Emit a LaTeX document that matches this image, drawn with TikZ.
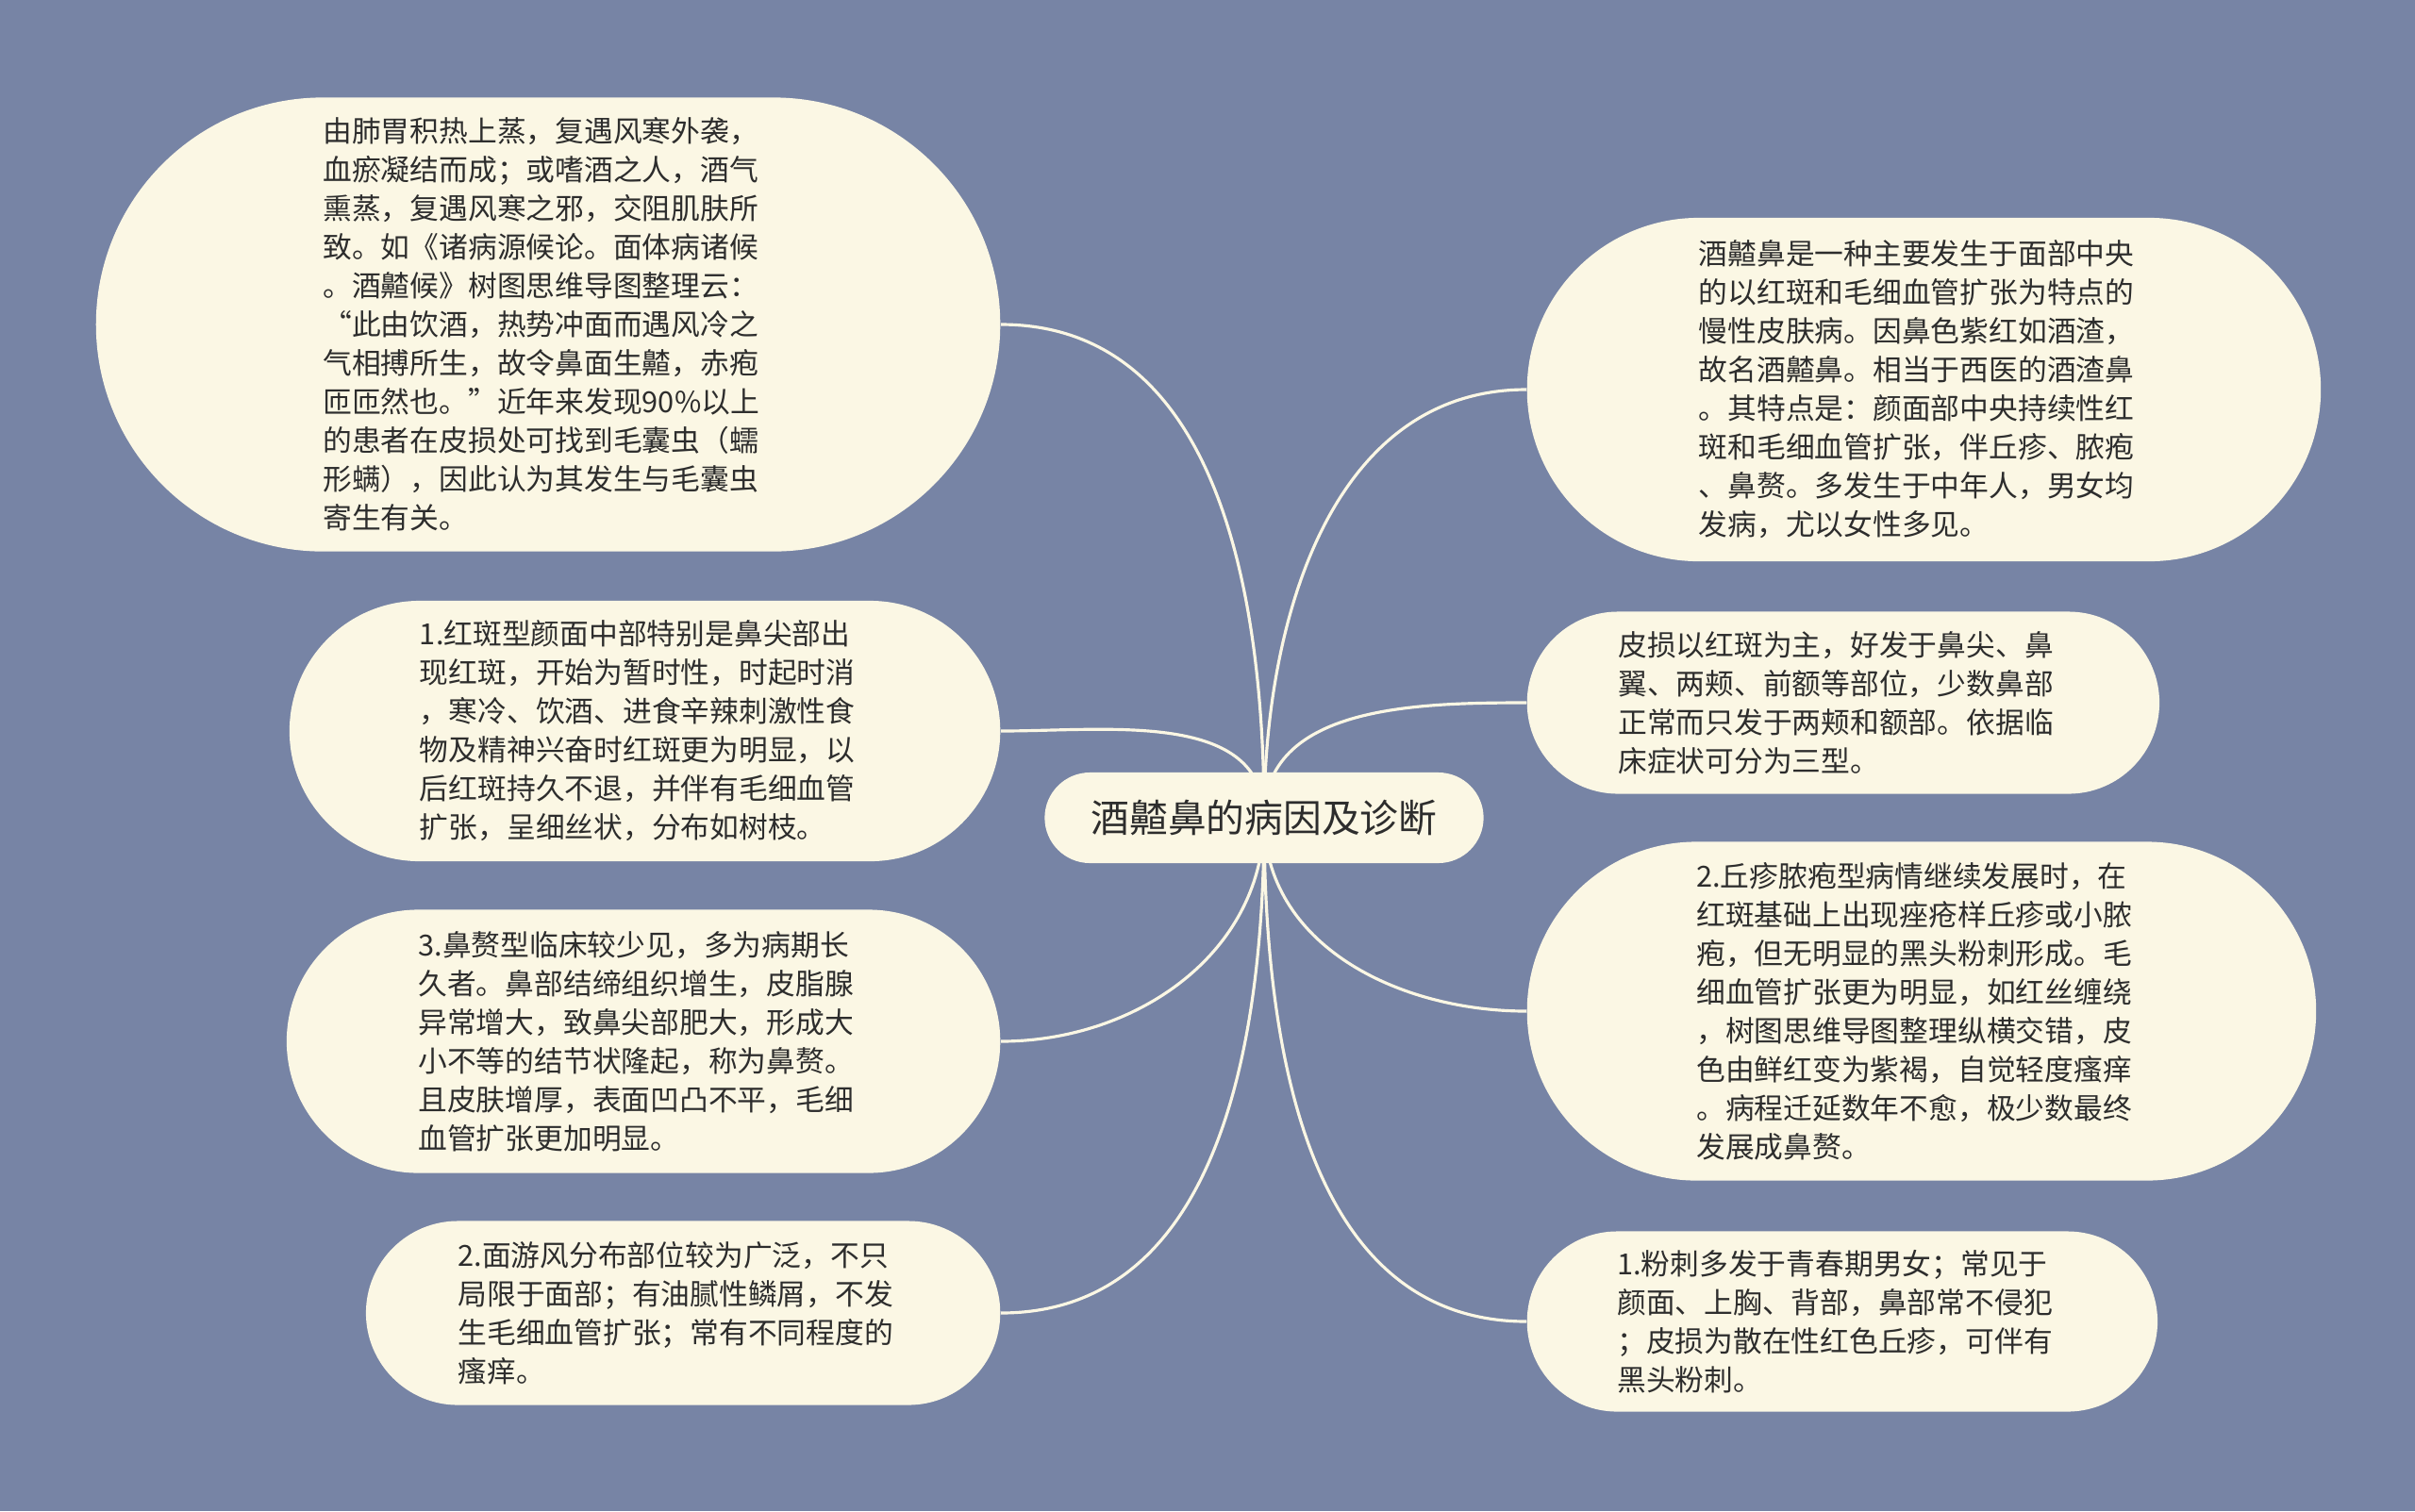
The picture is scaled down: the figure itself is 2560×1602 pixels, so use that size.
\documentclass[tikz,border=0pt]{standalone}
\usepackage{fontspec}
\setmainfont{Noto Sans CJK SC}
\usetikzlibrary{backgrounds}

\definecolor{bgblue}{RGB}{119,132,165}
\definecolor{cream}{RGB}{251,247,228}
\definecolor{ink}{RGB}{45,45,45}

\tikzset{pill/.style 2 args={minimum width=#1,minimum height=#2,rounded corners=#2/2}}

\begin{document}
\begin{tikzpicture}[x=0.01cm,y=-0.01cm]
        \useasboundingbox (0,0) rectangle (2560,1602);
        \begin{scope}[every node/.style={rectangle,fill=cream,text=ink,inner sep=0pt,text width=4.77cm,align=left,font=\fontsize{8.75pt}{11.65pt}\selectfont}]
            \node[pill={4.65cm}{0.96cm},text width=,align=center,font=\fontsize{11.6pt}{14pt}\selectfont] (0) at (1340,867) {酒齄鼻的病因及诊断};

            \node[anchor=east,pill={9.58cm}{4.81cm}] (1) at (1061,344) {由肺胃积热上蒸，复遇风寒外袭，\\血瘀凝结而成；或嗜酒之人，酒气\\熏蒸，复遇风寒之邪，交阻肌肤所\\致。如《诸病源候论。面体病诸候\\。酒齄候》树图思维导图整理云：\\“此由饮酒，热势冲面而遇风冷之\\气相搏所生，故令鼻面生齄，赤疱\\匝匝然也。”近年来发现90\%以上\\的患者在皮损处可找到毛囊虫（蠕\\形螨），因此认为其发生与毛囊虫\\寄生有关。};
            \node[anchor=east,pill={7.53cm}{2.76cm}] (2) at (1061,775) {1.红斑型颜面中部特别是鼻尖部出\\现红斑，开始为暂时性，时起时消\\，寒冷、饮酒、进食辛辣刺激性食\\物及精神兴奋时红斑更为明显，以\\后红斑持久不退，并伴有毛细血管\\扩张，呈细丝状，分布如树枝。};
            \node[anchor=east,pill={7.56cm}{2.79cm}] (3) at (1061,1104) {3.鼻赘型临床较少见，多为病期长\\久者。鼻部结缔组织增生，皮脂腺\\异常增大，致鼻尖部肥大，形成大\\小不等的结节状隆起，称为鼻赘。\\且皮肤增厚，表面凹凸不平，毛细\\血管扩张更加明显。};
            \node[anchor=east,pill={6.72cm}{1.95cm}] (4) at (1061,1392) {2.面游风分布部位较为广泛，不只\\局限于面部；有油腻性鳞屑，不发\\生毛细血管扩张；常有不同程度的\\瘙痒。};

            \node[anchor=west,pill={8.41cm}{3.64cm}] (5) at (1618,413) {酒齄鼻是一种主要发生于面部中央\\的以红斑和毛细血管扩张为特点的\\慢性皮肤病。因鼻色紫红如酒渣，\\故名酒齄鼻。相当于西医的酒渣鼻\\。其特点是：颜面部中央持续性红\\斑和毛细血管扩张，伴丘疹、脓疱\\、鼻赘。多发生于中年人，男女均\\发病，尤以女性多见。};
            \node[anchor=west,pill={6.70cm}{1.93cm}] (6) at (1618,745) {皮损以红斑为主，好发于鼻尖、鼻\\翼、两颊、前额等部位，少数鼻部\\正常而只发于两颊和额部。依据临\\床症状可分为三型。};
            \node[anchor=west,pill={8.36cm}{3.59cm}] (7) at (1618,1072) {2.丘疹脓疱型病情继续发展时，在\\红斑基础上出现痤疮样丘疹或小脓\\疱，但无明显的黑头粉刺形成。毛\\细血管扩张更为明显，如红丝缠绕\\，树图思维导图整理纵横交错，皮\\色由鲜红变为紫褐，自觉轻度瘙痒\\。病程迁延数年不愈，极少数最终\\发展成鼻赘。};
            \node[anchor=west,pill={6.68cm}{1.91cm}] (8) at (1618,1401) {1.粉刺多发于青春期男女；常见于\\颜面、上胸、背部，鼻部常不侵犯\\；皮损为散在性红色丘疹，可伴有\\黑头粉刺。};
        \end{scope}
        \begin{scope}[on background layer,every edge/.style={draw=cream,line width=0.9pt}]
            \fill[bgblue] (0,0) rectangle (2560,1602);

            \path (0.center) edge[out=90,in=0] (1.east);
            \path (0.center) edge[out=90,in=0] (2.east);
            \path (0.center) edge[out=-90,in=0] (3.east);
            \path (0.center) edge[out=-90,in=0] (4.east);

            \path (0.center) edge[out=90,in=180] (5.west);
            \path (0.center) edge[out=90,in=180] (6.west);
            \path (0.center) edge[out=-90,in=180] (7.west);
            \path (0.center) edge[out=-90,in=180] (8.west);
        \end{scope}
    \end{tikzpicture}
\end{document}
